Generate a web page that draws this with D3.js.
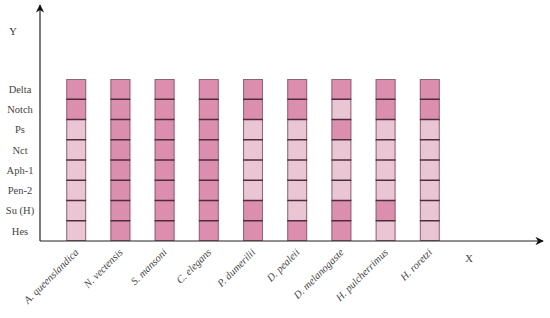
<!DOCTYPE html>
<html>
<head>
<meta charset="utf-8">
<script src="https://cdn.jsdelivr.net/npm/d3@7"></script>
<style>
  body { margin: 0; background: #fff; }
  svg { display: block; font-family: "Liberation Serif", "DejaVu Serif", serif; }
</style>
</head>
<body>
<div id="chart"></div>
<script>
const species = ["A. queenslandica", "N. vectensis", "S. mansoni", "C. elegans", "P. dumerilii",
                 "D. pealeii", "D. melanogaste", "H. pulcherrimus", "H. roretzi"];
const genes = ["Delta", "Notch", "Ps", "Nct", "Aph-1", "Pen-2", "Su (H)", "Hes"];

// 1 = present (dark), 0 = absent (light); one row per species, genes top to bottom
const presence = [
  [1, 1, 0, 0, 0, 0, 0, 0],
  [1, 1, 1, 1, 1, 1, 1, 1],
  [1, 1, 1, 1, 1, 1, 1, 1],
  [1, 1, 1, 1, 1, 1, 1, 1],
  [1, 1, 0, 0, 0, 0, 1, 1],
  [1, 1, 0, 0, 0, 0, 0, 1],
  [1, 0, 1, 0, 0, 0, 1, 1],
  [1, 1, 0, 0, 0, 0, 1, 0],
  [1, 1, 0, 0, 0, 0, 0, 0]
];

const width = 550, height = 318;
const origin = { x: 40, y: 241 };

const svg = d3.select("#chart").append("svg")
  .attr("width", width)
  .attr("height", height);

const x = d3.scaleBand()
  .domain(species)
  .range([53, 453])
  .paddingInner(0.55)
  .paddingOuter(0.3);

const y = d3.scaleBand()
  .domain(genes)
  .range([79, origin.y]);

const color = d3.scaleOrdinal().domain([0, 1]).range(["#eac6d4", "#dc8eae"]);

const cells = [];
species.forEach((s, i) => genes.forEach((g, j) => cells.push({ s, g, v: presence[i][j] })));

// cells
svg.append("g")
  .selectAll("rect")
  .data(cells)
  .join("rect")
  .attr("x", d => x(d.s))
  .attr("y", d => y(d.g))
  .attr("width", x.bandwidth())
  .attr("height", y.bandwidth())
  .attr("fill", d => color(d.v));

// column outlines
svg.append("g")
  .selectAll("rect")
  .data(species)
  .join("rect")
  .attr("x", d => x(d) + 0.5)
  .attr("y", y.range()[0] + 0.5)
  .attr("width", x.bandwidth() - 1)
  .attr("height", y.range()[1] - y.range()[0] - 1)
  .attr("fill", "none")
  .attr("stroke", "#8d6676")
  .attr("stroke-width", 1);

// separators between cells
svg.append("g")
  .selectAll("line")
  .data(cells.filter(d => d.g !== genes[0]))
  .join("line")
  .attr("x1", d => x(d.s))
  .attr("x2", d => x(d.s) + x.bandwidth())
  .attr("y1", d => y(d.g))
  .attr("y2", d => y(d.g))
  .attr("stroke", "#4e2c3a")
  .attr("stroke-width", 1.5);

// axes with arrows
const defs = svg.append("defs");
defs.append("marker")
  .attr("id", "arrow")
  .attr("viewBox", "0 0 10 10")
  .attr("refX", 9).attr("refY", 5)
  .attr("markerWidth", 7).attr("markerHeight", 7)
  .attr("orient", "auto")
  .append("path")
  .attr("d", "M0,0 L10,5 L0,10 L3,5 Z")
  .attr("fill", "#111");

svg.append("line")
  .attr("x1", origin.x).attr("y1", origin.y)
  .attr("x2", origin.x).attr("y2", 5)
  .attr("stroke", "#222").attr("stroke-width", 1.2)
  .attr("marker-end", "url(#arrow)");

svg.append("line")
  .attr("x1", origin.x).attr("y1", origin.y)
  .attr("x2", 543).attr("y2", origin.y)
  .attr("stroke", "#222").attr("stroke-width", 1.2)
  .attr("marker-end", "url(#arrow)");

// y labels
svg.append("g")
  .selectAll("text")
  .data(genes)
  .join("text")
  .attr("x", 20)
  .attr("y", d => y(d) + y.bandwidth() / 2)
  .attr("dy", "0.35em")
  .attr("text-anchor", "middle")
  .attr("font-size", 10.5)
  .attr("fill", "#444")
  .text(d => d);

// x labels
svg.append("g")
  .selectAll("text")
  .data(species)
  .join("text")
  .attr("transform", d => `translate(${x(d) + x.bandwidth() / 2 + 3},${origin.y + 12}) rotate(-45)`)
  .attr("text-anchor", "end")
  .attr("font-size", 10.5)
  .attr("font-style", "italic")
  .attr("fill", "#444")
  .text(d => d);

svg.append("text")
  .attr("x", 13).attr("y", 35)
  .attr("text-anchor", "middle")
  .attr("font-size", 10.5)
  .attr("fill", "#333")
  .text("Y");

svg.append("text")
  .attr("x", 469).attr("y", 262)
  .attr("text-anchor", "middle")
  .attr("font-size", 10.5)
  .attr("fill", "#444")
  .text("X");
</script>
</body>
</html>
